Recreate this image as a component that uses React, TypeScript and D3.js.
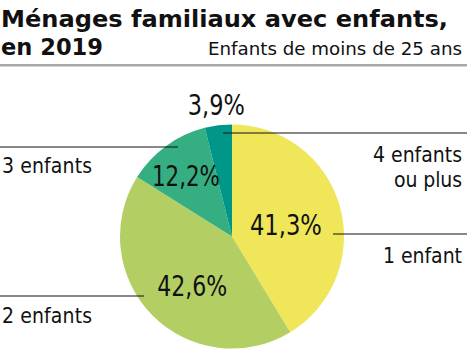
import React from "react";
import * as d3 from "d3";

// Data
const categories = ["1 enfant", "2 enfants", "3 enfants", "4 enfants ou plus"];
const shares = [41.3, 42.6, 12.2, 3.9];
const labels = ["41,3%", "42,6%", "12,2%", "3,9%"];
const colors = ["#EFE65A", "#B3CF63", "#35AF82", "#009688"];

const W = 467;
const H = 351;
const cx = 232;
const cy = 236.5;
const R = 112;
const narrow = "'DejaVu Sans Condensed', 'DejaVu Sans', sans-serif";
const bold = "'DejaVu Sans', sans-serif";

type Slice = d3.PieArcDatum<number>;

const App = () => {
  const pie = d3.pie<number>().sort(null).value((d) => d);
  const arcs: Slice[] = pie(shares);
  const arc = d3.arc<Slice>().innerRadius(0).outerRadius(R);

  // point on a circle of radius r at angle a (clockwise from 12 o'clock)
  const pt = (a: number, r: number) => [Math.sin(a) * r, -Math.cos(a) * r];
  const mid = (s: Slice) => (s.startAngle + s.endAngle) / 2;

  // label radius (fraction of R), baseline shift and squeezed width per percentage
  const labelR = [0.5, 0.5, 0.7, 1.15];
  const labelDy = [14, 20, 13, 6];
  const labelW = [72, 70, 68, 57];

  return (
    <svg width={W} height={H} style={{ position: "absolute", left: 0, top: 0, background: "#fff" }}>
      <text x={1} y={27} fontFamily={bold} fontWeight={700} fontSize={23}
        textLength={447} lengthAdjust="spacingAndGlyphs" fill="#111">
        Ménages familiaux avec enfants,
      </text>
      <text x={1} y={55} fontFamily={bold} fontWeight={700} fontSize={23}
        textLength={102} lengthAdjust="spacingAndGlyphs" fill="#111">
        en 2019
      </text>
      <text x={462} y={55} textAnchor="end" fontFamily={narrow} fontSize={17}
        textLength={254} lengthAdjust="spacingAndGlyphs" fill="#111">
        Enfants de moins de 25 ans
      </text>
      <rect x={0} y={64} width={W} height={2.5} fill="#a8a8a8" />

      <g transform={`translate(${cx},${cy})`}>
        {arcs.map((s, i) => (
          <path key={categories[i]} d={arc(s) || ""} fill={colors[i]} />
        ))}
        {arcs.map((s, i) => {
          const [x, y] = pt(mid(s), R * labelR[i]);
          return (
            <text key={labels[i]} x={x - labelW[i] / 2} y={y + labelDy[i]} fontFamily={narrow}
              fontSize={28} textLength={labelW[i]} lengthAdjust="spacingAndGlyphs" fill="#111">
              {labels[i]}
            </text>
          );
        })}

        {/* leader lines */}
        <line x1={-cx} x2={-54} y1={-89.5} y2={-89.5} stroke="#111" strokeWidth={1} />
        <line x1={-9} x2={W - cx} y1={-103.5} y2={-103.5} stroke="#111" strokeWidth={1} />
        <line x1={101} x2={W - cx} y1={-2.5} y2={-2.5} stroke="#111" strokeWidth={1} />
        <line x1={-cx} x2={-88} y1={59.5} y2={59.5} stroke="#111" strokeWidth={1} />
      </g>

      <g fontFamily={narrow} fontSize={21} fill="#111" lengthAdjust="spacingAndGlyphs">
        <text x={2} y={173} textLength={90}>{categories[2]}</text>
        <text x={462} y={162} textAnchor="end" textLength={89}>4 enfants</text>
        <text x={462} y={187} textAnchor="end" textLength={68}>ou plus</text>
        <text x={462} y={263} textAnchor="end" textLength={79}>{categories[0]}</text>
        <text x={2} y={323} textLength={90}>{categories[1]}</text>
      </g>
    </svg>
  );
};

export default App;
